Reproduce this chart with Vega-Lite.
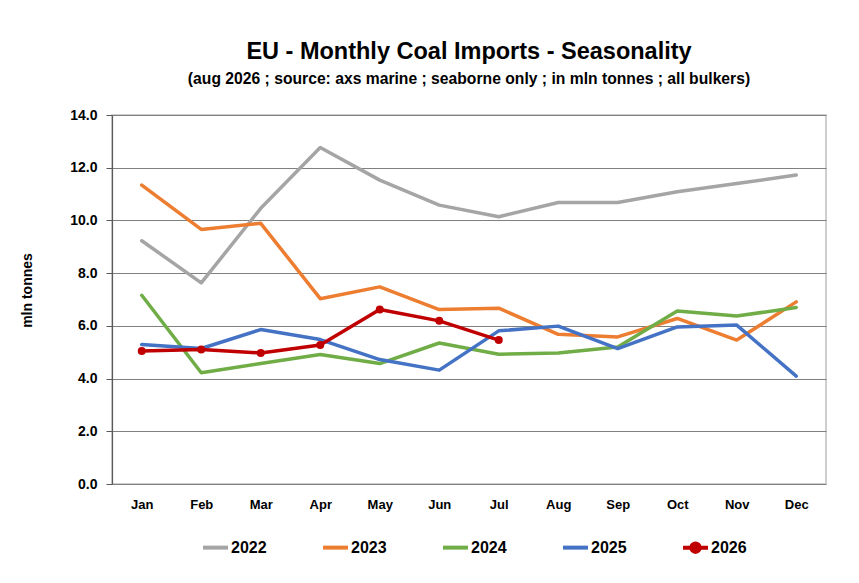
{
  "$schema": "https://vega.github.io/schema/vega-lite/v6.json",
  "autosize": "none",
  "padding": {"left": 112, "top": 115, "right": 33, "bottom": 99},
  "width": 714,
  "height": 369,
  "background": "white",
  "title": {
    "text": "EU - Monthly Coal Imports - Seasonality",
    "subtitle": "(aug 2026 ; source: axs marine ; seaborne only ; in mln tonnes ; all bulkers)",
    "anchor": "middle",
    "font": "Liberation Sans",
    "fontSize": 23.5,
    "fontWeight": "bold",
    "color": "#000000",
    "subtitleFont": "Liberation Sans",
    "subtitleFontSize": 15.7,
    "subtitleFontWeight": "bold",
    "subtitleColor": "#000000",
    "subtitlePadding": 9,
    "offset": 21
  },
  "data": {
    "values": [
      {"month": "Jan", "year": "2022", "mt": 9.23},
      {"month": "Feb", "year": "2022", "mt": 7.63},
      {"month": "Mar", "year": "2022", "mt": 10.46},
      {"month": "Apr", "year": "2022", "mt": 12.77},
      {"month": "May", "year": "2022", "mt": 11.53},
      {"month": "Jun", "year": "2022", "mt": 10.58},
      {"month": "Jul", "year": "2022", "mt": 10.14},
      {"month": "Aug", "year": "2022", "mt": 10.68},
      {"month": "Sep", "year": "2022", "mt": 10.68},
      {"month": "Oct", "year": "2022", "mt": 11.09},
      {"month": "Nov", "year": "2022", "mt": 11.4},
      {"month": "Dec", "year": "2022", "mt": 11.72},
      {"month": "Jan", "year": "2023", "mt": 11.34},
      {"month": "Feb", "year": "2023", "mt": 9.66},
      {"month": "Mar", "year": "2023", "mt": 9.89},
      {"month": "Apr", "year": "2023", "mt": 7.03},
      {"month": "May", "year": "2023", "mt": 7.48},
      {"month": "Jun", "year": "2023", "mt": 6.62},
      {"month": "Jul", "year": "2023", "mt": 6.67},
      {"month": "Aug", "year": "2023", "mt": 5.68},
      {"month": "Sep", "year": "2023", "mt": 5.58},
      {"month": "Oct", "year": "2023", "mt": 6.28},
      {"month": "Nov", "year": "2023", "mt": 5.46},
      {"month": "Dec", "year": "2023", "mt": 6.91},
      {"month": "Jan", "year": "2024", "mt": 7.16},
      {"month": "Feb", "year": "2024", "mt": 4.22},
      {"month": "Mar", "year": "2024", "mt": 4.57},
      {"month": "Apr", "year": "2024", "mt": 4.91},
      {"month": "May", "year": "2024", "mt": 4.57},
      {"month": "Jun", "year": "2024", "mt": 5.35},
      {"month": "Jul", "year": "2024", "mt": 4.92},
      {"month": "Aug", "year": "2024", "mt": 4.97},
      {"month": "Sep", "year": "2024", "mt": 5.2},
      {"month": "Oct", "year": "2024", "mt": 6.56},
      {"month": "Nov", "year": "2024", "mt": 6.37},
      {"month": "Dec", "year": "2024", "mt": 6.7},
      {"month": "Jan", "year": "2025", "mt": 5.29},
      {"month": "Feb", "year": "2025", "mt": 5.14},
      {"month": "Mar", "year": "2025", "mt": 5.86},
      {"month": "Apr", "year": "2025", "mt": 5.48},
      {"month": "May", "year": "2025", "mt": 4.72},
      {"month": "Jun", "year": "2025", "mt": 4.32},
      {"month": "Jul", "year": "2025", "mt": 5.81},
      {"month": "Aug", "year": "2025", "mt": 5.99},
      {"month": "Sep", "year": "2025", "mt": 5.14},
      {"month": "Oct", "year": "2025", "mt": 5.96},
      {"month": "Nov", "year": "2025", "mt": 6.03},
      {"month": "Dec", "year": "2025", "mt": 4.09},
      {"month": "Jan", "year": "2026", "mt": 5.05},
      {"month": "Feb", "year": "2026", "mt": 5.1},
      {"month": "Mar", "year": "2026", "mt": 4.97},
      {"month": "Apr", "year": "2026", "mt": 5.27},
      {"month": "May", "year": "2026", "mt": 6.62},
      {"month": "Jun", "year": "2026", "mt": 6.19},
      {"month": "Jul", "year": "2026", "mt": 5.46}
    ]
  },
  "encoding": {
    "x": {
      "field": "month",
      "type": "ordinal",
      "sort": ["Jan", "Feb", "Mar", "Apr", "May", "Jun", "Jul", "Aug", "Sep", "Oct", "Nov", "Dec"],
      "scale": {"paddingInner": 0, "paddingOuter": 0.5},
      "axis": {
        "title": null,
        "labelAngle": 0,
        "ticks": false,
        "domain": false,
        "grid": false,
        "labelPadding": 14,
        "labelFont": "Liberation Sans",
        "labelFontSize": 13,
        "labelFontWeight": "bold",
        "labelColor": "#000000"
      }
    },
    "y": {
      "field": "mt",
      "type": "quantitative",
      "scale": {"domain": [0, 14], "nice": false},
      "axis": {
        "title": "mln tonnes",
        "values": [0, 2, 4, 6, 8, 10, 12, 14],
        "format": ".1f",
        "grid": true,
        "gridColor": "#808080",
        "gridWidth": 1.2,
        "domainColor": "#595959",
        "domainWidth": 1.2,
        "tickColor": "#595959",
        "tickSize": 6,
        "labelPadding": 9,
        "labelFont": "Liberation Sans",
        "labelFontSize": 14,
        "labelFontWeight": "bold",
        "labelColor": "#000000",
        "titleFont": "Liberation Sans",
        "titleFontSize": 14,
        "titleFontWeight": "bold",
        "titleColor": "#000000",
        "titlePadding": 35,
        "titleY": 175
      }
    },
    "color": {
      "field": "year",
      "type": "nominal",
      "scale": {
        "domain": ["2022", "2023", "2024", "2025", "2026"],
        "range": ["#a5a5a5", "#ed7d31", "#70ad47", "#4472c4", "#c00000"]
      },
      "legend": {
        "title": null,
        "orient": "none",
        "legendX": 89,
        "legendY": 418,
        "direction": "horizontal",
        "padding": 0,
        "columnPadding": 48,
        "symbolType": "M-1,0H1",
        "symbolSize": 625,
        "symbolStrokeWidth": 4,
        "labelOffset": 1,
        "labelFont": "Liberation Sans",
        "labelFontSize": 16,
        "labelFontWeight": "bold",
        "labelColor": "#000000",
        "encode": {
          "symbols": {
            "update": {
              "shape": {"signal": "datum.label == '2026' ? 'M-1,0H1M0.34,0A0.34,0.34 0 1 1 -0.34,0A0.34,0.34 0 1 1 0.34,0Z' : 'M-1,0H1M0,-0.34L0,-0.34M0,0.34L0,0.34'"},
              "fill": {"signal": "datum.label == '2026' ? '#c00000' : 'transparent'"}
            }
          }
        }
      }
    }
  },
  "layer": [
    {"mark": {"type": "line", "strokeWidth": 3.5, "strokeCap": "round", "strokeJoin": "round"}},
    {
      "transform": [{"filter": "datum.year == '2026'"}],
      "mark": {"type": "point", "filled": true, "size": 64, "opacity": 1, "shape": "circle"}
    }
  ],
  "config": {
    "view": {"stroke": "#c0c0c0", "strokeWidth": 1.5},
    "font": "Liberation Sans"
  }
}
